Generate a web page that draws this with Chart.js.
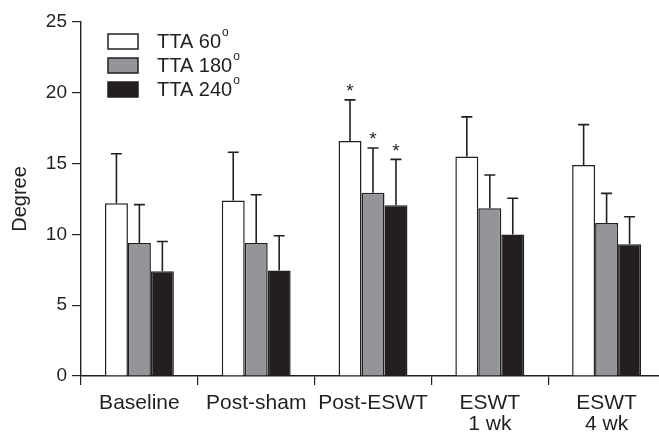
<!DOCTYPE html>
<html>
<head>
<meta charset="utf-8">
<script src="https://cdn.jsdelivr.net/npm/chart.js@4"></script>
<style>
  html, body { margin: 0; padding: 0; background: #fff; overflow: hidden; }
  #wrap { width: 659px; height: 432px; overflow: hidden; }
  #box { width: 680px; height: 432px; }
</style>
</head>
<body>
<div id="wrap"><div id="box"><canvas id="chart"></canvas></div></div>
<script>
// ─── DATA ─────────────────────────────────────────────────────────────────────
const categories = ['Baseline', 'Post-sham', 'Post-ESWT', ['ESWT', '1 wk'], ['ESWT', '4 wk']];
const seriesNames = ['TTA 60', 'TTA 180', 'TTA 240'];

const tta60 = [12.2, 12.4, 16.6, 15.5, 14.9];
const tta60Err = [3.5, 3.4, 2.9, 2.8, 2.85];
const tta180 = [9.4, 9.4, 12.95, 11.85, 10.8];
const tta180Err = [2.7, 3.4, 3.15, 2.35, 2.1];
const tta240 = [7.4, 7.45, 12.05, 10.0, 9.3];
const tta240Err = [2.1, 2.45, 3.25, 2.55, 1.95];

// significance marks (*) per series
const sig60 = [false, false, true, false, false];
const sig180 = [false, false, true, false, false];
const sig240 = [false, false, true, false, false];

const yTicks = [0, 5, 10, 15, 20, 25];

// ─── STYLE ────────────────────────────────────────────────────────────────────
const ink = '#231f20';
const fills = ['#ffffff', '#939598', '#231f20'];
const FONT = "'Liberation Sans', Arial, sans-serif";

Chart.defaults.font.family = FONT;
Chart.defaults.color = ink;

// error bars + stars
const errorBars = {
    id: 'errorBars',
    afterDatasetsDraw(chart) {
        const ctx = chart.ctx;
        const y = chart.scales.y;
        ctx.save();
        ctx.strokeStyle = ink;
        ctx.fillStyle = ink;
        ctx.lineWidth = 1.6;
        chart.data.datasets.forEach((ds, di) => {
            const meta = chart.getDatasetMeta(di);
            meta.data.forEach((bar, i) => {
                const top = y.getPixelForValue(ds.data[i] + ds.err[i]);
                const x = bar.x;
                ctx.beginPath();
                ctx.moveTo(x, bar.y);
                ctx.lineTo(x, top);
                ctx.moveTo(x - 5.5, top);
                ctx.lineTo(x + 5.5, top);
                ctx.stroke();
                if (ds.sig[i]) {
                    ctx.font = '19px ' + FONT;
                    ctx.textAlign = 'center';
                    ctx.textBaseline = 'middle';
                    ctx.fillText('*', x, top - 8);
                }
            });
        });
        ctx.restore();
    }
};

// legend with superscript degree mark
const degreeLegend = {
    id: 'degreeLegend',
    afterDraw(chart) {
        const ctx = chart.ctx;
        ctx.save();
        chart.data.datasets.forEach((ds, i) => {
            const bx = 108, by = 34 + i * 24;
            ctx.fillStyle = ds.backgroundColor;
            ctx.fillRect(bx, by, 30, 15);
            ctx.strokeStyle = ink;
            ctx.lineWidth = 1.5;
            ctx.strokeRect(bx, by, 30, 15);
            ctx.fillStyle = ink;
            ctx.font = '20px ' + FONT;
            ctx.textAlign = 'left';
            ctx.textBaseline = 'middle';
            ctx.fillText(ds.label, 157, by + 8);
            const w = ctx.measureText(ds.label).width;
            ctx.font = '12px ' + FONT;
            ctx.fillText('o', 157 + w + 1, by - 1);
        });
        ctx.restore();
    }
};

const mk = (i, data, err, sig) => ({
    label: seriesNames[i],
    data: data,
    err: err,
    sig: sig,
    backgroundColor: fills[i],
    borderColor: ink,
    borderWidth: 1.5,
    barPercentage: 1,
    categoryPercentage: 0.59
});

new Chart(document.getElementById('chart'), {
    type: 'bar',
    data: {
        labels: categories,
        datasets: [
            mk(0, tta60, tta60Err, sig60),
            mk(1, tta180, tta180Err, sig180),
            mk(2, tta240, tta240Err, sig240)
        ]
    },
    options: {
        responsive: true,
        maintainAspectRatio: false,
        animation: false,
        layout: { padding: { top: 22, right: 15, left: 0, bottom: 0 } },
        plugins: { legend: { display: false }, tooltip: { enabled: false } },
        scales: {
            x: {
                grid: { drawOnChartArea: false, color: ink, tickLength: 9, lineWidth: 1.2 },
                border: { color: ink, width: 1.4 },
                ticks: { font: { size: 21, lineHeight: 1.0 }, color: ink, padding: 8, maxRotation: 0, autoSkip: false },
                afterFit(s) { s.height = 56; }
            },
            y: {
                min: 0,
                max: 25,
                afterBuildTicks(s) { s.ticks = yTicks.map(v => ({ value: v })); },
                grid: { drawOnChartArea: false, color: ink, tickLength: 9, lineWidth: 1.2 },
                border: { color: ink, width: 1.4 },
                ticks: { font: { size: 19 }, color: ink, padding: 5 },
                title: { display: true, text: 'Degree', font: { size: 20 }, color: ink, padding: { top: 8, bottom: 4 } },
                afterFit(s) { s.width = 81; }
            }
        }
    },
    plugins: [errorBars, degreeLegend]
});
</script>
</body>
</html>
